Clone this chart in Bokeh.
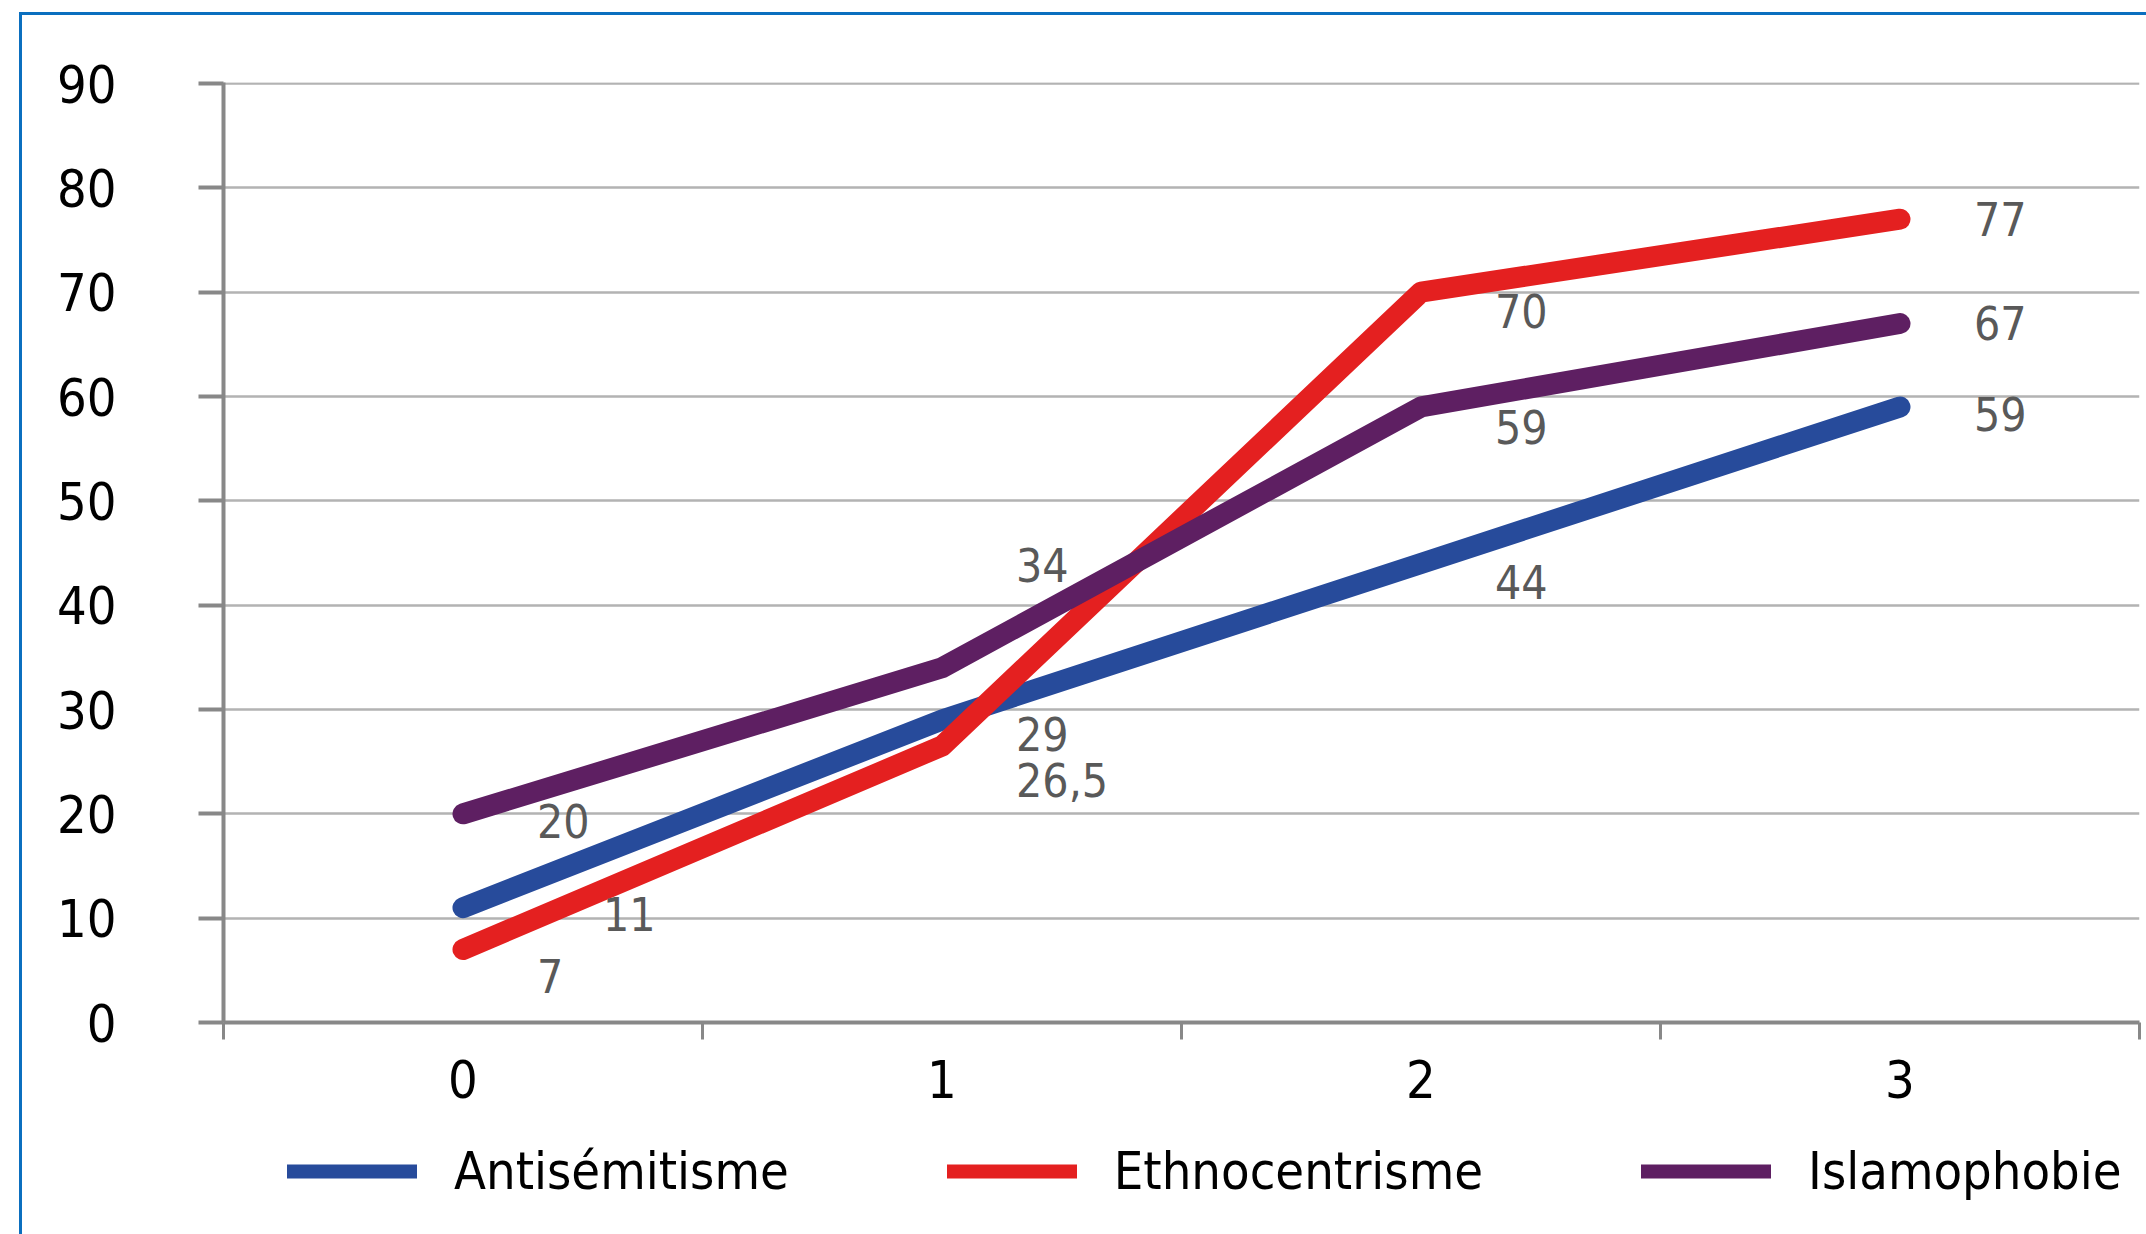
from bokeh.plotting import figure
from bokeh.layouts import column
from bokeh.models import FixedTicker, Legend, LegendItem, ColumnDataSource
from bokeh.core.properties import value
from bokeh.embed import file_html
from bokeh.resources import INLINE

# ---------------- data ----------------
categories = [0, 1, 2, 3]
antisemitisme = [11, 29, 44, 59]
ethnocentrisme = [7, 26.5, 70, 77]
islamophobie = [20, 34, 59, 67]
series_names = ["Antisémitisme", "Ethnocentrisme", "Islamophobie"]
y_ticks = [0, 10, 20, 30, 40, 50, 60, 70, 80, 90]

# ---------------- style ----------------
FONT = "Liberation Sans Narrow, DejaVu Sans Condensed, sans-serif"
colors = ["#274b9b", "#e42020", "#5e1f62"]
BLUE = "#0b6fbf"
# label offsets in screen pixels (dx right, dy down) per series/point
label_dx = [[140, 74, 74, 74], [74, 74, 74, 74], [74, 74, 74, 74]]
label_dy = [[6, 14, 19, 7], [27, 34, 19, 0], [7, -103, 20, 0]]

series = [antisemitisme, ethnocentrisme, islamophobie]

p = figure(width=2146, height=1128, x_range=(-0.5, 3.5), y_range=(0, 90.1),
           output_backend="svg", toolbar_location=None,
           min_border_left=223, min_border_right=7, min_border_top=82,
           min_border_bottom=106)
p.border_fill_color = None
p.background_fill_color = "white"
p.outline_line_color = None

# axes
p.yaxis.ticker = FixedTicker(ticks=y_ticks, minor_ticks=[])
p.yaxis.axis_line_color = "#888888"
p.yaxis.axis_line_width = 4
p.yaxis.major_tick_line_color = "#888888"
p.yaxis.major_tick_line_width = 4
p.yaxis.major_tick_out = 25
p.yaxis.major_tick_in = 0
p.yaxis.minor_tick_line_color = None
p.yaxis.major_label_text_font = FONT
p.yaxis.major_label_text_font_size = "52px"
p.yaxis.major_label_text_color = "black"
p.yaxis.major_label_standoff = 82

bounds = [c - 0.5 for c in categories] + [categories[-1] + 0.5]
p.xaxis.ticker = FixedTicker(ticks=categories, minor_ticks=bounds)
p.xaxis.axis_line_color = "#888888"
p.xaxis.axis_line_width = 4
p.xaxis.major_tick_line_color = None
p.xaxis.minor_tick_line_color = "#888888"
p.xaxis.minor_tick_line_width = 3
p.xaxis.minor_tick_out = 17
p.xaxis.minor_tick_in = 0
p.xaxis.major_tick_out = 17
p.xaxis.major_tick_in = 0
p.xaxis.major_label_text_font = FONT
p.xaxis.major_label_text_font_size = "52px"
p.xaxis.major_label_text_color = "black"
p.xaxis.major_label_standoff = 20

p.xgrid.visible = False
p.ygrid.ticker = FixedTicker(ticks=y_ticks, minor_ticks=[])
p.ygrid.grid_line_color = "#b3b3b3"
p.ygrid.grid_line_width = 2.5

# lines
for vals, c in zip(series, colors):
    p.line(categories, vals, line_width=21, line_color=c,
           line_cap="round", line_join="round")

# data labels
for vals, dx, dy in zip(series, label_dx, label_dy):
    src = ColumnDataSource(dict(
        x=categories, y=vals,
        t=[f"{v:g}".replace(".", ",") for v in vals],
        dx=dx, dy=dy))
    p.text(x="x", y="y", text="t", x_offset="dx", y_offset="dy", source=src,
           text_font=value(FONT), text_font_size="46px", text_color="#595959",
           text_align="left", text_baseline="middle")

# ---------------- legend strip ----------------
lf = figure(width=2146, height=106, x_range=(0, 1), y_range=(0, 1),
            output_backend="svg", toolbar_location=None,
            x_axis_type=None, y_axis_type=None,
            min_border_left=0, min_border_right=0, min_border_top=0,
            min_border_bottom=0)
lf.grid.visible = False
lf.outline_line_color = None
lf.border_fill_color = None
lf.background_fill_color = None

NAN = float("nan")
items = []
for name, c in zip(series_names, colors):
    # sample-only renderer (no visible data), used to draw the legend swatch
    r = lf.line(x=[NAN], y=[NAN], line_width=14, line_color=c, line_cap="round")
    items.append(LegendItem(label=name, renderers=[r]))

legend = Legend(items=items, orientation="horizontal", location=(64, 31),
                spacing=158, glyph_width=130, glyph_height=64, label_height=64,
                label_standoff=37, padding=0, margin=0,
                label_text_font=FONT, label_text_font_size="52px",
                label_text_color="black",
                background_fill_alpha=0, border_line_color=None)
lf.add_layout(legend, "center")

layout = column(p, lf, spacing=0)
layout.styles = {
    "background": (f"linear-gradient({BLUE},{BLUE}) 19px 12px / 3px 100% no-repeat, "
                   f"linear-gradient({BLUE},{BLUE}) 19px 12px / 100% 3px no-repeat, white"),
}

open("out.html", "w").write(file_html(layout, INLINE))
